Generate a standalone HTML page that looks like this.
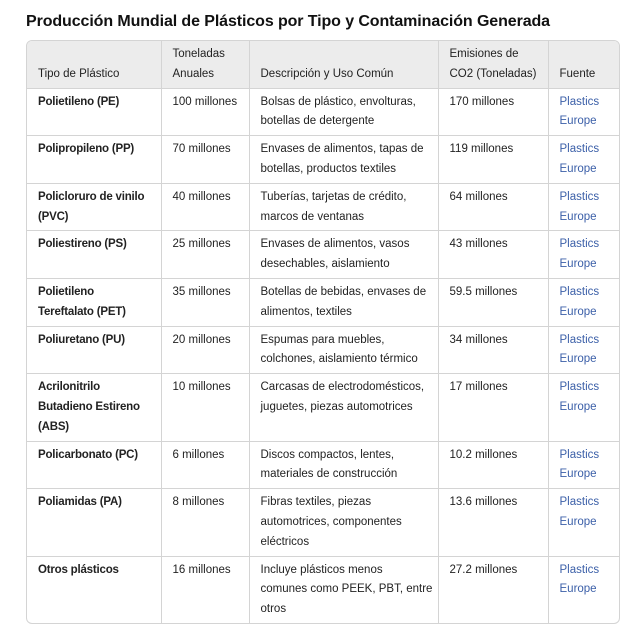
<!DOCTYPE html>
<html><head><meta charset="utf-8"><style>
body{margin:0;background:#fff;font-family:"Liberation Sans",sans-serif;color:#222;}
h1{position:absolute;left:26px;top:13px;margin:0;font-size:16px;font-weight:bold;color:#111;letter-spacing:-0.1px;}
.wrap{position:absolute;left:26px;top:40px;width:592px;border:1px solid #d4d4d4;border-radius:6px;overflow:hidden;}
table{border-collapse:collapse;width:100%;table-layout:fixed;font-size:11.5px;}
th,td{border-right:1px solid #d4d4d4;border-bottom:1px solid #d4d4d4;padding:4px 4px 3px 11px;line-height:19.8px;vertical-align:top;text-align:left;white-space:nowrap;overflow:hidden;}
th:last-child,td:last-child{border-right:none;}
tr:last-child td{border-bottom:none;}
th{background:#ececec;font-weight:normal;color:#222;vertical-align:bottom;height:39px;}
td.b{font-weight:bold;color:#222;letter-spacing:-0.2px;}
td a{color:#3b5fa8;text-decoration:none;}
</style></head><body>
<h1>Producción Mundial de Plásticos por Tipo y Contaminación Generada</h1>
<div class="wrap"><table>
<colgroup><col style="width:134px"><col style="width:88px"><col style="width:189px"><col style="width:110px"><col style="width:71px"></colgroup>
<thead><tr><th>Tipo de Plástico</th><th>Toneladas<br>Anuales</th><th>Descripción y Uso Común</th><th>Emisiones de<br>CO2 (Toneladas)</th><th>Fuente</th></tr></thead>
<tbody>
<tr><td class="b">Polietileno (PE)</td><td>100 millones</td><td>Bolsas de plástico, envolturas,<br>botellas de detergente</td><td>170 millones</td><td><a>Plastics<br>Europe</a></td></tr>
<tr><td class="b">Polipropileno (PP)</td><td>70 millones</td><td>Envases de alimentos, tapas de<br>botellas, productos textiles</td><td>119 millones</td><td><a>Plastics<br>Europe</a></td></tr>
<tr><td class="b">Policloruro de vinilo<br>(PVC)</td><td>40 millones</td><td>Tuberías, tarjetas de crédito,<br>marcos de ventanas</td><td>64 millones</td><td><a>Plastics<br>Europe</a></td></tr>
<tr><td class="b">Poliestireno (PS)</td><td>25 millones</td><td>Envases de alimentos, vasos<br>desechables, aislamiento</td><td>43 millones</td><td><a>Plastics<br>Europe</a></td></tr>
<tr><td class="b">Polietileno<br>Tereftalato (PET)</td><td>35 millones</td><td>Botellas de bebidas, envases de<br>alimentos, textiles</td><td>59.5 millones</td><td><a>Plastics<br>Europe</a></td></tr>
<tr><td class="b">Poliuretano (PU)</td><td>20 millones</td><td>Espumas para muebles,<br>colchones, aislamiento térmico</td><td>34 millones</td><td><a>Plastics<br>Europe</a></td></tr>
<tr><td class="b">Acrilonitrilo<br>Butadieno Estireno<br>(ABS)</td><td>10 millones</td><td>Carcasas de electrodomésticos,<br>juguetes, piezas automotrices</td><td>17 millones</td><td><a>Plastics<br>Europe</a></td></tr>
<tr><td class="b">Policarbonato (PC)</td><td>6 millones</td><td>Discos compactos, lentes,<br>materiales de construcción</td><td>10.2 millones</td><td><a>Plastics<br>Europe</a></td></tr>
<tr><td class="b">Poliamidas (PA)</td><td>8 millones</td><td>Fibras textiles, piezas<br>automotrices, componentes<br>eléctricos</td><td>13.6 millones</td><td><a>Plastics<br>Europe</a></td></tr>
<tr><td class="b">Otros plásticos</td><td>16 millones</td><td>Incluye plásticos menos<br>comunes como PEEK, PBT, entre<br>otros</td><td>27.2 millones</td><td><a>Plastics<br>Europe</a></td></tr>
</tbody></table></div>
</body></html>
